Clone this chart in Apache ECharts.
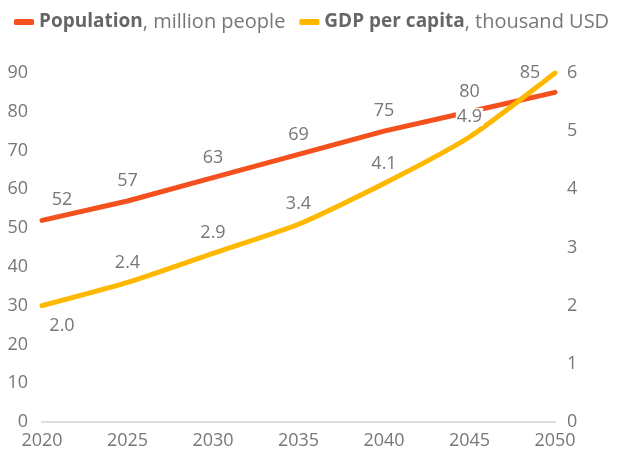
<!DOCTYPE html>
<html>
<head>
<meta charset="utf-8">
<script src="https://cdn.jsdelivr.net/npm/echarts@6/dist/echarts.min.js"></script>
<style>
  html, body { margin: 0; padding: 0; background: #fff; }
  #chart { width: 622px; height: 454px; }
</style>
</head>
<body>
<div id="chart"></div>
<script>
// data
const years = ['2020', '2025', '2030', '2035', '2040', '2045', '2050']
const population = [52, 57, 63, 69, 75, 80, 85] // million people
const gdpPerCapita = [2.0, 2.4, 2.9, 3.4, 4.1, 4.9, 6.0] // thousand USD

const textGrey = '#777'
const fontFamily = '"Open Sans", Lato, sans-serif'

const chart = echarts.init(document.getElementById('chart'))

// label tweaks at the ends of the lines
const popData = population.map((v, i) => {
  const item = { value: v }
  if (i === 0) item.label = { offset: [20, 0] }
  if (i === population.length - 1) item.label = { offset: [-25, 0] }
  return item
})
const gdpData = gdpPerCapita.map((v, i) => {
  const item = { value: v }
  if (i === 0) item.label = { position: 'bottom', offset: [20, 0] }
  if (i === gdpPerCapita.length - 1) item.label = { show: false }
  return item
})

const labelStyle = {
  show: true,
  position: 'top',
  distance: 11,
  color: textGrey,
  fontSize: 18,
  fontFamily: fontFamily,
  backgroundColor: '#fff',
  padding: [0, 1]
}

const option = {
  backgroundColor: '#fff',
  textStyle: { fontFamily: fontFamily },
  legend: {
    left: 9,
    top: 7,
    itemWidth: 20,
    itemHeight: 6,
    itemGap: 14,
    icon: 'roundRect',
    formatter: name => {
      if (name === 'Population') return '{b|Population}{n|, million people}'
      return '{b|GDP per capita}{n|, thousand USD}'
    },
    textStyle: {
      rich: {
        b: { fontSize: 19, fontWeight: 'bold', color: '#666', fontFamily: fontFamily },
        n: { fontSize: 20, color: textGrey, fontFamily: fontFamily }
      }
    }
  },
  grid: {
    left: 42,
    right: 67,
    top: 73,
    bottom: 32
  },
  xAxis: {
    type: 'category',
    data: years,
    boundaryGap: false,
    axisLine: { lineStyle: { color: '#ddd', width: 2 } },
    axisTick: { show: false },
    axisLabel: { color: textGrey, fontSize: 18, margin: 10 }
  },
  yAxis: [
    {
      type: 'value',
      min: 0,
      max: 90,
      interval: 10,
      axisLine: { show: false },
      axisTick: { show: false },
      splitLine: { show: false },
      axisLabel: { color: textGrey, fontSize: 18, margin: 14 }
    },
    {
      type: 'value',
      min: 0,
      max: 6,
      interval: 1,
      position: 'right',
      axisLine: { show: false },
      axisTick: { show: false },
      splitLine: { show: false },
      axisLabel: { color: textGrey, fontSize: 18, margin: 12 }
    }
  ],
  series: [
    {
      name: 'Population',
      type: 'line',
      yAxisIndex: 0,
      data: popData,
      symbol: 'circle',
      symbolSize: 0,
      color: '#f4511e',
      lineStyle: { width: 5, cap: 'round', color: '#f4511e' },
      label: labelStyle
    },
    {
      name: 'GDP per capita',
      type: 'line',
      yAxisIndex: 1,
      data: gdpData,
      symbol: 'circle',
      symbolSize: 0,
      smooth: 0.2,
      color: '#ffb800',
      lineStyle: { width: 5, cap: 'round', color: '#ffb800' },
      label: Object.assign({}, labelStyle, {
        formatter: p => Number(p.value).toFixed(1)
      })
    }
  ]
}

chart.setOption(option)
</script>
</body>
</html>
